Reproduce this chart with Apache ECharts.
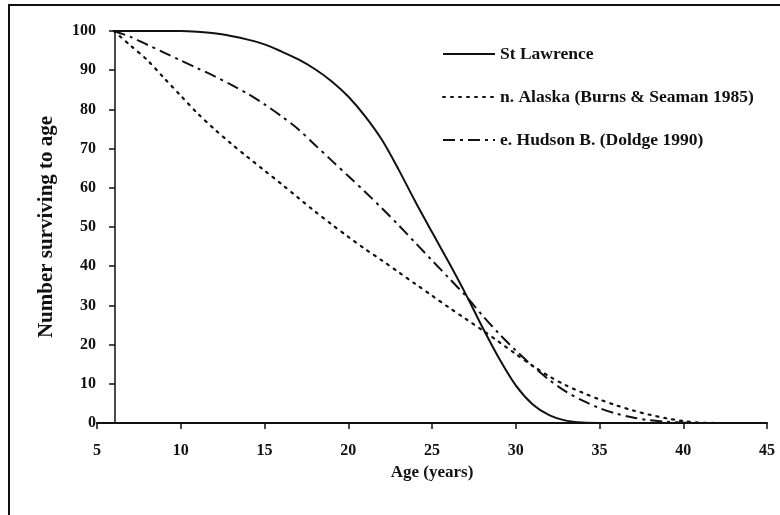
<!DOCTYPE html>
<html>
<head>
<meta charset="utf-8">
<script src="https://cdn.jsdelivr.net/npm/echarts@6/dist/echarts.min.js"></script>
<style>
  html, body { margin: 0; padding: 0; background: #fff; }
  #chart { width: 780px; height: 515px; }
</style>
</head>
<body>
<div id="chart"></div>
<script>
// ages (years) the curves are read at
const ages = [6, 7, 8, 9, 10, 11, 12, 13, 14, 15, 16, 17, 18, 19, 20, 21, 22, 23, 24, 25,
  26, 27, 28, 29, 30, 31, 32, 33, 34, 35, 36, 37, 38, 39, 40, 41, 42, 43, 44, 45]

const stLawrence = [100, 100, 100, 100, 100, 99.8, 99.4, 98.7, 97.8, 96.6, 94.8, 92.8, 90.3, 87.2, 83.3, 78.3, 72.3, 64.7, 56.5, 48.7,
  41, 33, 24.5, 16.5, 9.6, 4.8, 2, 0.6, 0.1, 0, 0, 0, 0, 0, 0, 0, 0, 0, 0, 0]

const alaska = [100, 96.3, 92.6, 88, 83.5, 79, 75, 71.3, 67.8, 64.4, 61, 57.5, 54, 50.7, 47.5, 44.4, 41.5, 38.5, 35.5, 32.5,
  29.5, 26.6, 23.7, 20.7, 17.6, 14.6, 11.9, 9.6, 7.7, 6, 4.5, 3.2, 2.1, 1.2, 0.5, 0.1, 0, 0, 0, 0]

const hudson = [100, 98.5, 96.5, 94.5, 92.5, 90.5, 88.5, 86.3, 84, 81.3, 78.3, 75, 71, 67, 63, 59, 54.8, 50.5, 46, 41.5,
  37, 32.5, 27.5, 22.8, 18.5, 14.6, 11, 8, 5.7, 3.8, 2.4, 1.4, 0.7, 0.3, 0.1, 0, 0, 0, 0, 0]

const seriesNames = ['St Lawrence', 'n. Alaska (Burns & Seaman 1985)', 'e. Hudson B. (Doldge 1990)']
const xTicks = { min: 5, max: 45, step: 5 }
const yTicks = { min: 0, max: 100, step: 10 }

const FONT = 'Liberation Serif, Times New Roman, serif'
const INK = '#111'

function pairs(values) {
  return ages.map((a, i) => [a, values[i]])
}

let myChart = echarts.init(document.getElementById('chart'), null, { renderer: 'canvas' })

let lineBase = {
  type: 'line',
  symbol: 'none',
  smooth: 0.3,
  animation: false
}

myChart.setOption({
  backgroundColor: '#fff',
  animation: false,
  grid: { left: 97, right: 13, top: 31, bottom: 92, containLabel: false },
  legend: {
    orient: 'vertical',
    left: 437,
    top: 40,
    itemWidth: 52,
    itemHeight: 14,
    itemGap: 25,
    itemStyle: { opacity: 0 },
    textStyle: { fontFamily: FONT, fontSize: 17.5, fontWeight: 'bold', color: INK },
    data: seriesNames
  },
  xAxis: {
    type: 'value',
    min: xTicks.min,
    max: xTicks.max,
    interval: xTicks.step,
    name: 'Age (years)',
    nameLocation: 'middle',
    nameGap: 41,
    nameTextStyle: { fontFamily: FONT, fontSize: 17, fontWeight: 'bold', color: INK },
    axisLine: { lineStyle: { color: INK, width: 2 } },
    axisTick: { length: 6, lineStyle: { color: INK, width: 1.5 } },
    axisLabel: { margin: 20, fontFamily: FONT, fontSize: 16, fontWeight: 'bold', color: INK },
    splitLine: { show: false }
  },
  yAxis: {
    type: 'value',
    min: yTicks.min,
    max: yTicks.max,
    interval: yTicks.step,
    offset: -18,
    name: 'Number surviving to age',
    nameLocation: 'middle',
    nameGap: 58,
    nameTextStyle: { fontFamily: FONT, fontSize: 21, fontWeight: 'bold', color: INK },
    axisLine: { show: true, lineStyle: { color: INK, width: 1.5 } },
    axisTick: { show: true, length: 6, lineStyle: { color: INK, width: 1.5 } },
    axisLabel: { margin: 19, fontFamily: FONT, fontSize: 16, fontWeight: 'bold', color: INK },
    splitLine: { show: false }
  },
  graphic: [{
    type: 'rect',
    shape: { x: 9, y: 5, width: 900, height: 700 },
    style: { fill: 'none', stroke: INK, lineWidth: 2 },
    silent: true
  }],
  series: [
    Object.assign({}, lineBase, {
      name: seriesNames[0],
      data: pairs(stLawrence),
      lineStyle: { color: INK, width: 2, type: 'solid' },
      itemStyle: { color: INK }
    }),
    Object.assign({}, lineBase, {
      name: seriesNames[1],
      data: pairs(alaska),
      lineStyle: { color: INK, width: 2.2, type: [2, 6], cap: 'round' },
      itemStyle: { color: INK }
    }),
    Object.assign({}, lineBase, {
      name: seriesNames[2],
      data: pairs(hudson),
      lineStyle: { color: INK, width: 2, type: [12, 5, 3, 5] },
      itemStyle: { color: INK }
    })
  ]
})
</script>
</body>
</html>
